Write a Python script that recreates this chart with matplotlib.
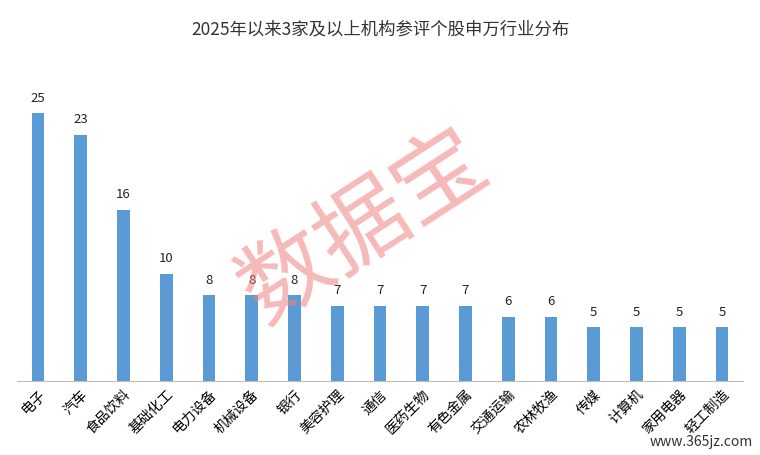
import matplotlib
matplotlib.use("Agg")
import matplotlib.pyplot as plt

plt.rcParams["font.family"] = ["Noto Sans CJK SC", "DejaVu Sans"]

categories = ["电子", "汽车", "食品饮料", "基础化工", "电力设备", "机械设备", "银行", "美容护理",
              "通信", "医药生物", "有色金属", "交通运输", "农林牧渔", "传媒", "计算机", "家用电器", "轻工制造"]
values = [25, 23, 16, 10, 8, 8, 8, 7, 7, 7, 7, 6, 6, 5, 5, 5, 5]

fig = plt.figure(figsize=(7.6, 4.56), dpi=100)
ax = fig.add_axes([0.0218, 0.1623, 0.9563, 0.6623])
x = range(len(categories))
ax.bar(x, values, width=0.3, color="#5B9BD5")
for xi, v in zip(x, values):
    ax.text(xi, v + 0.9, str(v), ha="center", va="bottom", fontsize=9.5, color="#222222")
ax.set_xlim(-0.5, len(categories) - 0.5)
ax.set_ylim(0, 28.2)
ax.set_yticks([])
for s in ["top", "right", "left"]:
    ax.spines[s].set_visible(False)
ax.spines["bottom"].set_color("#BFBFBF")
ax.set_xticks(list(x))
ax.set_xticklabels(categories, rotation=45, ha="right", rotation_mode="anchor", fontsize=10)
ax.tick_params(axis="x", length=0, pad=4)

fig.text(0.5, 0.935, "2025年以来3家及以上机构参评个股申万行业分布", ha="center", va="center",
         fontsize=12.5, color="#333333")
fig.text(0.48, 0.5, "数据宝", ha="center", va="center", fontsize=66, color="#F08080",
         alpha=0.55, rotation=33)
fig.text(0.99, 0.03, "www.365jz.com", ha="right", va="center", fontsize=10, color="#333333")
fig.savefig("out.png", dpi=100, facecolor="white")
